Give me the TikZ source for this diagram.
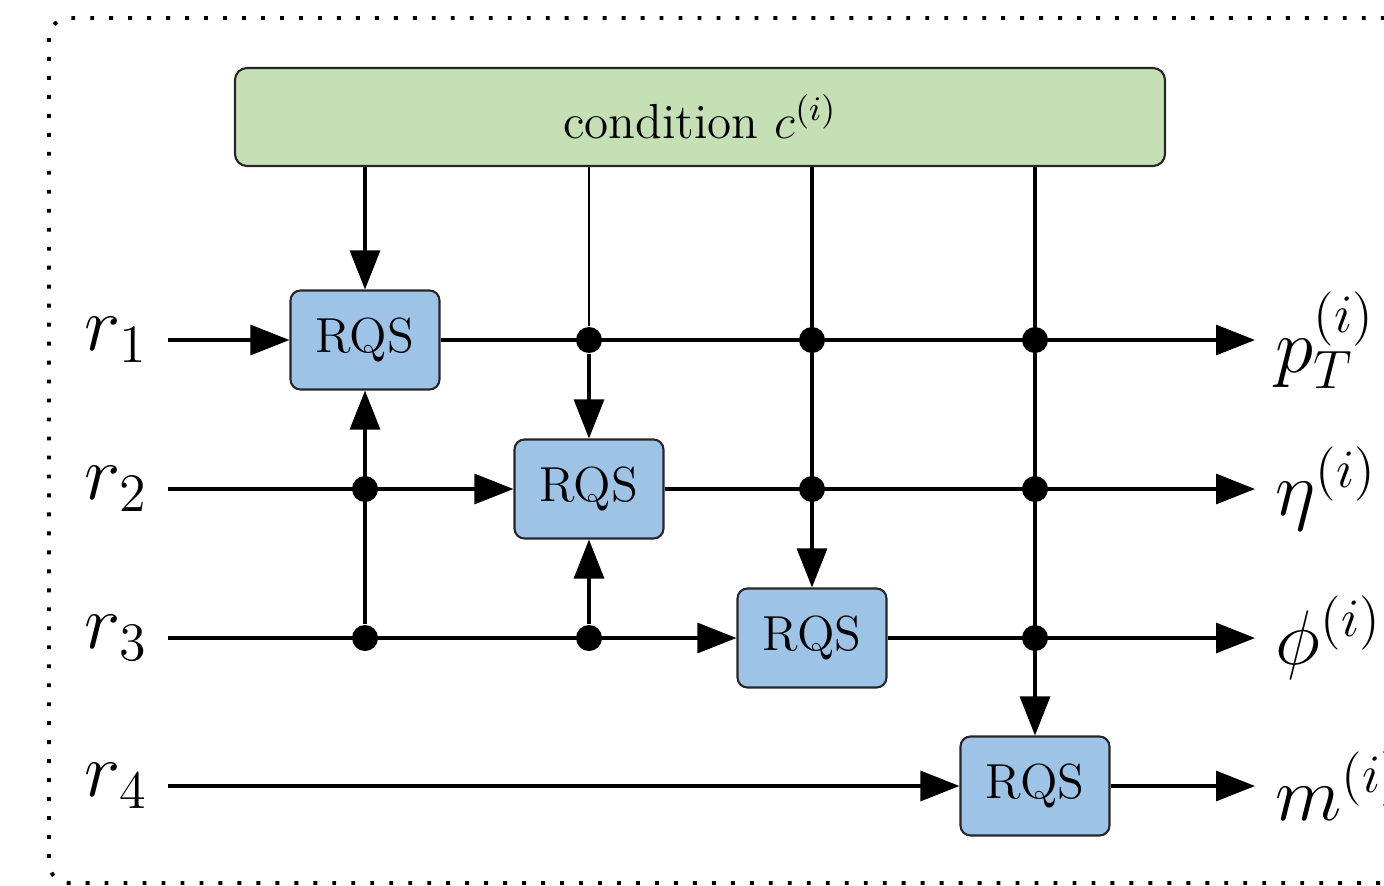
\documentclass[tikz,border=0pt]{standalone}
\IfFileExists{fix-cm.sty}{\usepackage{fix-cm}}{}
\usetikzlibrary{arrows.meta}

\definecolor{CondGreen}{HTML}{C5E0B4}
\definecolor{RQSBlue}{HTML}{9DC3E6}
\definecolor{EdgeGray}{HTML}{262626}

\tikzset{
    rqs/.style={draw=EdgeGray, line width=0.6pt, fill=RQSBlue, rounded corners=1mm,
        minimum width=14.9mm, minimum height=9.9mm, inner sep=0pt, font=\fontsize{14}{16}\selectfont},
    cond/.style={draw=EdgeGray, line width=0.6pt, fill=CondGreen, rounded corners=1.2mm,
        minimum width=93mm, minimum height=9.8mm, font=\fontsize{14}{16}\selectfont},
    var/.style={inner ysep=0pt, inner xsep=2mm, font=\fontsize{22}{26}\selectfont},
    junction/.style={circle, fill=black, inner sep=0pt, minimum size=2.6mm},
    flow/.style={line width=0.9pt, -{Triangle[length=3.9mm,width=3mm]}},
}

\begin{document}
\begin{tikzpicture}[x=0.1mm, y=-0.1mm]
        \useasboundingbox (0,0) rectangle (1384,885);
        \draw[line width=1.1pt, dash pattern=on 1.1pt off 4.3pt, rounded corners=2mm] (49,18) rectangle (1450,883);

        \node[cond] (cond) at (700,117) {condition $c^{(i)}$};

        \node[rqs] (q1) at (365,340) {RQS};
        \node[rqs] (q2) at (589,489) {RQS};
        \node[rqs] (q3) at (812,638) {RQS};
        \node[rqs] (q4) at (1035,786) {RQS};

        \node[var, anchor=east] (r1) at (168,340) {$r_1$};
        \node[var, anchor=east] (r2) at (168,489) {$r_2$};
        \node[var, anchor=east] (r3) at (168,638) {$r_3$};
        \node[var, anchor=east] (r4) at (168,786) {$r_4$};

        \node[var, anchor=west] (pT) at (1255,340) {$p_T^{(i)}$};
        \node[var, anchor=west] (eta) at (1255,489) {$\eta^{(i)}$};
        \node[var, anchor=west] (phi) at (1255,638) {$\phi^{(i)}$};
        \node[var, anchor=west] (mass) at (1255,786) {$m^{(i)}$};

        % junctions
        \node[junction] (d12) at (q2 |- q1) {};
        \node[junction] (d13) at (q3 |- q1) {};
        \node[junction] (d14) at (q4 |- q1) {};
        \node[junction] (d21) at (q1 |- q2) {};
        \node[junction] (d23) at (q3 |- q2) {};
        \node[junction] (d24) at (q4 |- q2) {};
        \node[junction] (d31) at (q1 |- q3) {};
        \node[junction] (d32) at (q2 |- q3) {};
        \node[junction] (d34) at (q4 |- q3) {};

        \draw[flow] (r1.east) -- (q1.west);
        \draw[flow] (r2.east) -- (q2.west);
        \draw[flow] (r3.east) -- (q3.west);
        \draw[flow] (r4.east) -- (q4.west);

        \draw[flow] (q1.east) -- (pT.west);
        \draw[flow] (q2.east) -- (eta.west);
        \draw[flow] (q3.east) -- (phi.west);
        \draw[flow] (q4.east) -- (mass.west);

        \draw[flow] (cond.south -| q1) -- (q1.north);
        \draw[line width=0.6pt] (cond.south -| q2) -- (d12);
        \draw[flow] (d12) -- (q2.north);
        \draw[flow] (cond.south -| q3) -- (q3.north);
        \draw[flow] (cond.south -| q4) -- (q4.north);

        \draw[flow] (d31) -- (q1.south);
        \draw[flow] (d32) -- (q2.south);
    \end{tikzpicture}
\end{document}
